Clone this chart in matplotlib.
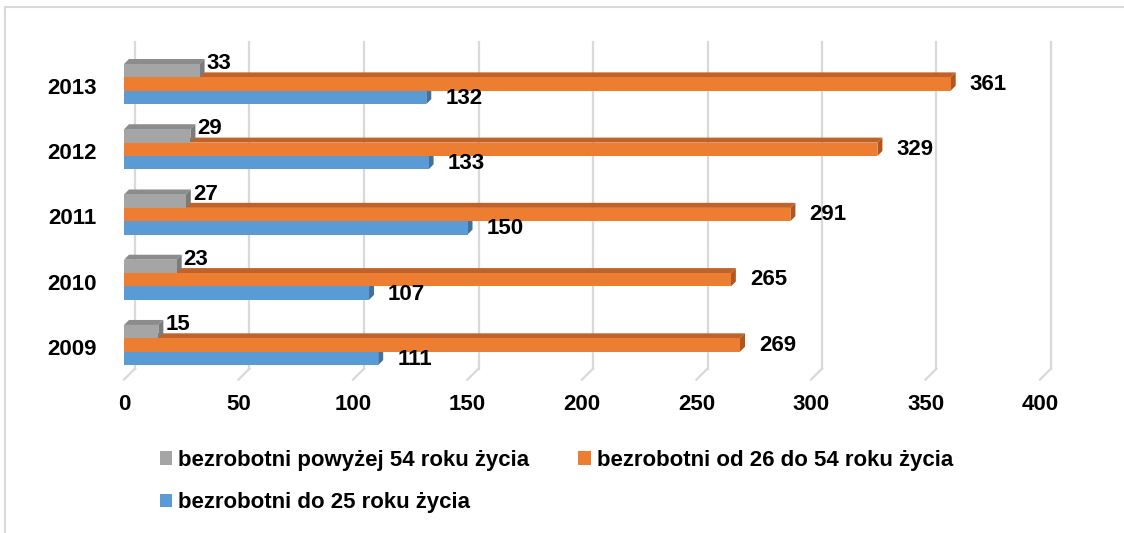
import matplotlib
matplotlib.use("Agg")
import matplotlib.pyplot as plt
from matplotlib.patches import Polygon, Rectangle, Patch
from matplotlib.lines import Line2D
import numpy as np

years = ["2009", "2010", "2011", "2012", "2013"]
over54 = [15, 23, 27, 29, 33]
mid26_54 = [269, 265, 291, 329, 361]
under25 = [111, 107, 150, 133, 132]
series_names = ["bezrobotni powyżej 54 roku życia",
                "bezrobotni od 26 do 54 roku życia",
                "bezrobotni do 25 roku życia"]
xticks = [0, 50, 100, 150, 200, 250, 300, 350, 400]

plt.rcParams['font.family'] = ['Liberation Sans', 'DejaVu Sans']
plt.rcParams['font.weight'] = 'bold'

W, H = 1124, 533
fig = plt.figure(figsize=(W / 100, H / 100), dpi=100)
ax = fig.add_axes([124 / W, (H - 379.6) / H, (1040 - 124) / W, (379.6 - 53.4) / H])
ax.set_xlim(0, 400)
ax.set_ylim(-0.5, 4.5)
for s in ax.spines.values():
    s.set_visible(False)

px_x = ax.transData.transform((1, 0))[0] - ax.transData.transform((0, 0))[0]
px_y = ax.transData.transform((0, 1))[1] - ax.transData.transform((0, 0))[1]

def dx(p):
    return p / px_x

def dy(p):
    return p / px_y

# gridlines on the back wall with a slanted foot
gx, gy = 11, 11
for t in xticks:
    xb = t + dx(gx)
    ax.add_line(Line2D([xb, xb], [-0.5 + dy(gy), 4.5 + dy(gy)], color='#D9D9D9', lw=1.6, zorder=0, clip_on=False))
    ax.add_line(Line2D([xb, t], [-0.5 + dy(gy), -0.5], color='#D9D9D9', lw=1.6, zorder=0, clip_on=False))

h = 0.205
shift = 0.03
depth_x, depth_y = 5, 5
cols = {
    'gray': ('#A5A5A5', '#8C8C8C', '#7B7B7B'),
    'orange': ('#ED7D31', '#C0622A', '#B3561C'),
    'blue': ('#5B9BD5', '#4A80B3', '#41719C'),
}

def bar3d(y0, v, c, z):
    front, top, side = c
    y1 = y0 + h
    ddx, ddy = dx(depth_x), dy(depth_y)
    ax.add_patch(Polygon([(0, y1), (v, y1), (v + ddx, y1 + ddy), (ddx, y1 + ddy)],
                         closed=True, facecolor=top, edgecolor='none', zorder=z))
    ax.add_patch(Polygon([(v, y0), (v + ddx, y0 + ddy), (v + ddx, y1 + ddy), (v, y1)],
                         closed=True, facecolor=side, edgecolor='none', zorder=z))
    ax.add_patch(Rectangle((0, y0), v, h, facecolor=front, edgecolor='none', zorder=z + 0.5))

fs = 16
ypos = np.arange(len(years))
for i, y in enumerate(ypos):
    base = y + shift
    bar3d(base - 1.5 * h, under25[i], cols['blue'], 2)
    bar3d(base - 0.5 * h, mid26_54[i], cols['orange'], 3)
    bar3d(base + 0.5 * h, over54[i], cols['gray'], 4)
    ax.text(under25[i] + dx(19), base - h - dy(1), str(under25[i]), fontsize=fs, fontweight='bold',
            va='center', ha='left', zorder=6)
    ax.text(mid26_54[i] + dx(19), base, str(mid26_54[i]), fontsize=fs, fontweight='bold',
            va='center', ha='left', zorder=6)
    ax.text(over54[i] + dx(7), base + h + dy(7), str(over54[i]), fontsize=fs, fontweight='bold',
            va='center', ha='left', zorder=6)

ax.set_yticks(ypos)
ax.set_yticklabels(years, fontsize=fs, fontweight='bold')
ax.set_xticks(xticks)
ax.set_xticklabels([str(t) for t in xticks], fontsize=fs, fontweight='bold')
ax.tick_params(axis='both', length=0)
ax.tick_params(axis='y', pad=19.5)
ax.tick_params(axis='x', pad=10.5)

handles = [Patch(facecolor='#A5A5A5', edgecolor='none'),
           Patch(facecolor='#5B9BD5', edgecolor='none'),
           Patch(facecolor='#ED7D31', edgecolor='none')]
labels = [series_names[0], series_names[2], series_names[1]]
leg = fig.legend(handles, labels, ncol=2, loc='upper left', bbox_to_anchor=(160 / W, 1 - 450 / H),
                 frameon=False, prop={'size': 16, 'weight': 'bold'},
                 handlelength=0.55, handleheight=0.55, handletextpad=0.28, columnspacing=2.2,
                 labelspacing=0.95, borderpad=0, borderaxespad=0)

# outer frame (left and top)
fig.add_artist(Line2D([5 / W, 5 / W], [0, 1 - 7 / H], color='#D9D9D9', lw=1.5, transform=fig.transFigure))
fig.add_artist(Line2D([5 / W, 1], [1 - 7 / H, 1 - 7 / H], color='#D9D9D9', lw=1.5, transform=fig.transFigure))

fig.savefig('out.png', dpi=100)
